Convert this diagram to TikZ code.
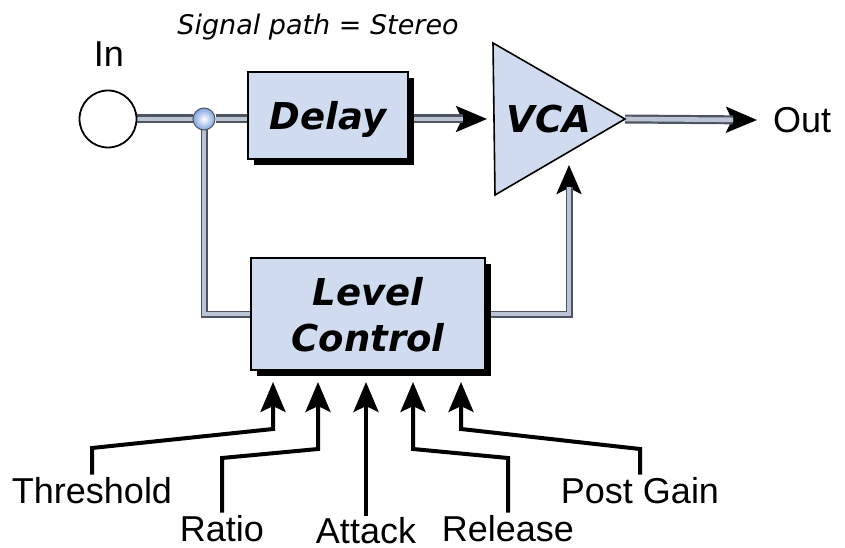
\documentclass[tikz,border=0pt]{standalone}
\usepackage{tikz}
\usepackage{fontspec}
\setmainfont{Liberation Sans}
\newfontfamily\boxfont{DejaVu Sans}
\usetikzlibrary{arrows.meta,shadows,backgrounds}
\definecolor{boxblue}{HTML}{D0DBEF}
\definecolor{pipeedge}{HTML}{4F5461}
\definecolor{pipefill}{HTML}{BAC4D4}
\definecolor{ballblue}{HTML}{7FA3DE}
\tikzset{
    lbl/.style={font=\fontsize{36}{40}\selectfont, inner sep=2pt},
    boxtxt/.style={font=\boxfont\bfseries\itshape\fontsize{37}{46}\selectfont, align=center, text depth=0pt},
    blk/.style={boxtxt, draw=black, line width=1.6pt, fill=boxblue, inner sep=0pt,
        drop shadow={shadow xshift=6pt, shadow yshift=-6pt, opacity=1, fill=black}},
    pipe/.style={draw=pipeedge, line width=2.2pt, double=pipefill, double distance=4.6pt},
    thinpipe/.style={draw=pipeedge, line width=1.8pt, double=pipefill, double distance=3.4pt},
    pipearrow/.style={draw=black, line width=3pt, -{Stealth[length=31pt,width=26pt,inset=6pt]},
        postaction={draw, -, pipe, shorten >=24pt}},
    thinpipearrow/.style={draw=black, line width=3pt, -{Stealth[length=29pt,width=25pt,inset=6pt]},
        postaction={draw, -, thinpipe, shorten >=22pt}},
    ctl/.style={draw=black, line width=4pt, -{Stealth[length=30pt,width=25pt,inset=6pt]}}
}

\begin{document}
\begin{tikzpicture}[x=1pt, y=-1pt]
        \useasboundingbox (0,0) rectangle (845,548);
        % Input, junction and the two blocks.
            \node[circle, draw, line width=1.8pt, minimum size=57pt, inner sep=0pt] (in) at (108,119) {};
            \node[circle, minimum size=22pt, inner sep=0pt, draw=pipeedge, line width=1pt,
                inner color=white, outer color=ballblue] (junc) at (204,119) {};
            \node[blk, minimum width=160pt, minimum height=87pt] (delay) at (328,115.5) {Delay};
            \node[blk, minimum width=234pt, minimum height=112pt] (lc) at (368,314) {Level\\Control};
        % This draws the VCA triangle.
            \coordinate (vca top) at (493,43);
            \coordinate (vca tip) at (625,119);
            \coordinate (vca bot) at (495,195);
            \coordinate (vca in) at (487,119);
            \coordinate (vca ctl) at (569,165);
            \draw[line width=1.6pt, fill=boxblue] (vca top) -- (vca tip) -- (vca bot) -- cycle;
            \node[boxtxt] (vca) at (549,119) {VCA};
        % Below nodes are the labels.
            \node[font=\boxfont\itshape\fontsize{27}{30}\selectfont] (sig) at (318,27) {Signal path = Stereo};
            \node[lbl] (inlbl) at (109,54) {In};
            \node[lbl, anchor=west, inner xsep=16pt] (out) at (757,120) {Out};
            \node[lbl, anchor=base] (thr) at (92,503) {Threshold};
            \node[lbl, anchor=base] (rat) at (222,541) {Ratio};
            \node[lbl, anchor=base, inner sep=1pt] (att) at (366,543) {Attack};
            \node[lbl, anchor=base] (rel) at (508,541) {Release};
            \node[lbl, anchor=base] (pg) at (640,503) {Post Gain};
        % Signal pipes go under the blocks.
            \begin{scope}[on background layer]
                \draw[pipe] (in.east) -- (junc.west);
                \draw[pipe] (junc.east) -- (delay.west |- junc);
                \draw[pipearrow] (delay.east |- junc) -- (vca in);
                \draw[pipearrow] (vca tip) -- (out.west);
                \draw[thinpipe] (junc.south) |- (lc.west);
                \draw[thinpipearrow] (lc.east) -| (vca ctl);
            \end{scope}
        % Control inputs of the level control.
            \coordinate (thr in) at (273,382);
            \coordinate (rat in) at (318,382);
            \coordinate (att in) at (366,382);
            \coordinate (rel in) at (413,382);
            \coordinate (pg in) at (461,382);
            \draw[ctl] (thr.north) -- (92,448) -- (273,429) -- (thr in);
            \draw[ctl] (rat.north) -- (222,458) -- (318,449) -- (rat in);
            \draw[ctl] (att.north) -- (att in);
            \draw[ctl] (rel.north) -- (508,458) -- (413,449) -- (rel in);
            \draw[ctl] (pg.north) -- (640,449) -- (461,429) -- (pg in);
    \end{tikzpicture}
\end{document}
